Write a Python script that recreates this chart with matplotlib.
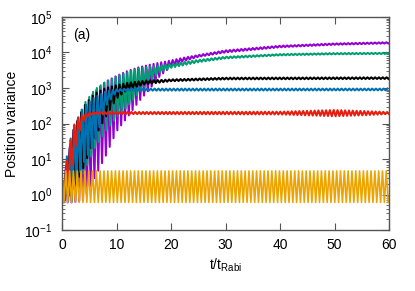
import numpy as np
import matplotlib
matplotlib.use("Agg")
import matplotlib.pyplot as plt
from matplotlib.ticker import LogLocator, FixedLocator, NullFormatter

plt.rcParams['font.family'] = ['Liberation Sans', 'DejaVu Sans']
plt.rcParams['mathtext.fontset'] = 'custom'
plt.rcParams['mathtext.rm'] = 'Liberation Sans'
plt.rcParams['mathtext.it'] = 'Liberation Sans'
plt.rcParams['mathtext.default'] = 'regular'

# oscillation period (in t/t_Rabi)
period = 0.7

# envelopes (upper / lower)
purple_t = [0, 2, 4, 6, 8, 10, 12, 14, 16, 18, 20, 22, 25, 30, 40, 50, 60]
purple_hi = [1.5, 60, 300, 800, 1500, 2200, 3000, 3800, 4500, 5200, 6000, 7000, 8500, 11500, 15500, 18000, 19500]
purple_lo = [0.6, 0.6, 0.7, 3, 12, 60, 150, 400, 900, 2200, 4000, 5500, 7500, 10000, 14000, 16500, 18000]

green_t = [0, 2, 4, 6, 8, 10, 12, 14, 16, 18, 20, 25, 30, 40, 50, 60]
green_hi = [1.5, 60, 350, 900, 1500, 2100, 2800, 3500, 4000, 4300, 4700, 6200, 7600, 9000, 9600, 9800]
green_lo = [0.6, 0.7, 4, 20, 60, 150, 300, 700, 1500, 2800, 3700, 5300, 6800, 8300, 8900, 9100]

black_t = [0, 1, 2, 4, 6, 8, 10, 12, 15, 20, 30, 60]
black_hi = [1.5, 10, 60, 300, 700, 1000, 1200, 1400, 1600, 1750, 1950, 2000]
black_lo = [0.6, 0.8, 1.2, 6, 40, 150, 500, 900, 1250, 1550, 1750, 1800]

blue_t = [0, 1, 2, 3, 4, 6, 8, 10, 12, 60]
blue_hi = [1.5, 15, 70, 150, 300, 550, 800, 920, 960, 960]
blue_lo = [0.6, 0.8, 1.5, 3, 8, 30, 300, 780, 840, 860]

red_t = [0, 1, 2, 3, 4, 5, 6, 40, 50, 55, 60]
red_hi = [1.5, 12, 80, 150, 180, 200, 210, 215, 240, 225, 210]
red_lo = [0.5, 1.5, 8, 50, 120, 175, 185, 180, 160, 170, 185]

orange_t = [0, 60]
orange_hi = [4.6, 4.6]
orange_lo = [0.6, 0.6]


def zigzag(t, hi, lo, phase=0.0):
    # alternate between upper and lower envelope every half period
    tt = np.arange(phase, 60.0001, period / 2)
    up = np.interp(tt, t, np.log10(hi))
    dn = np.interp(tt, t, np.log10(lo))
    yy = np.where(np.arange(len(tt)) % 2 == 0, up, dn)
    return tt, 10 ** yy


fig = plt.figure(figsize=(4.15, 2.91), dpi=100)
ax = fig.add_axes([0.1494, 0.2096, 0.788, 0.732])

series = [
    (purple_t, purple_hi, purple_lo, '#9400d3', 0.0, 1.5),
    (green_t, green_hi, green_lo, '#009e73', 0.1, 1.5),
    (black_t, black_hi, black_lo, 'black', 0.05, 1.5),
    (blue_t, blue_hi, blue_lo, '#0072b2', 0.2, 1.5),
    (red_t, red_hi, red_lo, '#e51e10', 0.15, 1.5),
    (orange_t, orange_hi, orange_lo, '#eda400', 0.0, 1.2),
]
for t, hi, lo, c, ph, lw in series:
    x, y = zigzag(t, hi, lo, ph)
    ax.plot(x, y, color=c, lw=lw)

ax.set_yscale('log')
ax.set_xlim(0, 60)
ax.set_ylim(1e-1, 1e5)
ax.xaxis.set_major_locator(FixedLocator([0, 10, 20, 30, 40, 50, 60]))
ax.yaxis.set_major_locator(LogLocator(base=10, numticks=10))
ax.yaxis.set_minor_locator(LogLocator(base=10, subs=np.arange(2, 10), numticks=20))
ax.yaxis.set_minor_formatter(NullFormatter())
ax.tick_params(which='both', direction='in', top=True, right=True,
               labelsize=10, color='#555555')
ax.tick_params(which='major', length=5, width=0.8)
ax.tick_params(which='minor', length=2.5, width=0.6)
ax.tick_params(axis='x', pad=6)
ax.tick_params(axis='y', pad=7)
for s in ax.spines.values():
    s.set_color('#555555')
    s.set_linewidth(1.0)

ax.set_xlabel(r'$t/t_{Rabi}$', fontsize=10, labelpad=3)
ax.set_ylabel('Position variance', fontsize=10, labelpad=4)
ax.text(0.035, 0.95, '(a)', transform=ax.transAxes, fontsize=10, va='top', ha='left')

fig.savefig('out.png', dpi=100)
